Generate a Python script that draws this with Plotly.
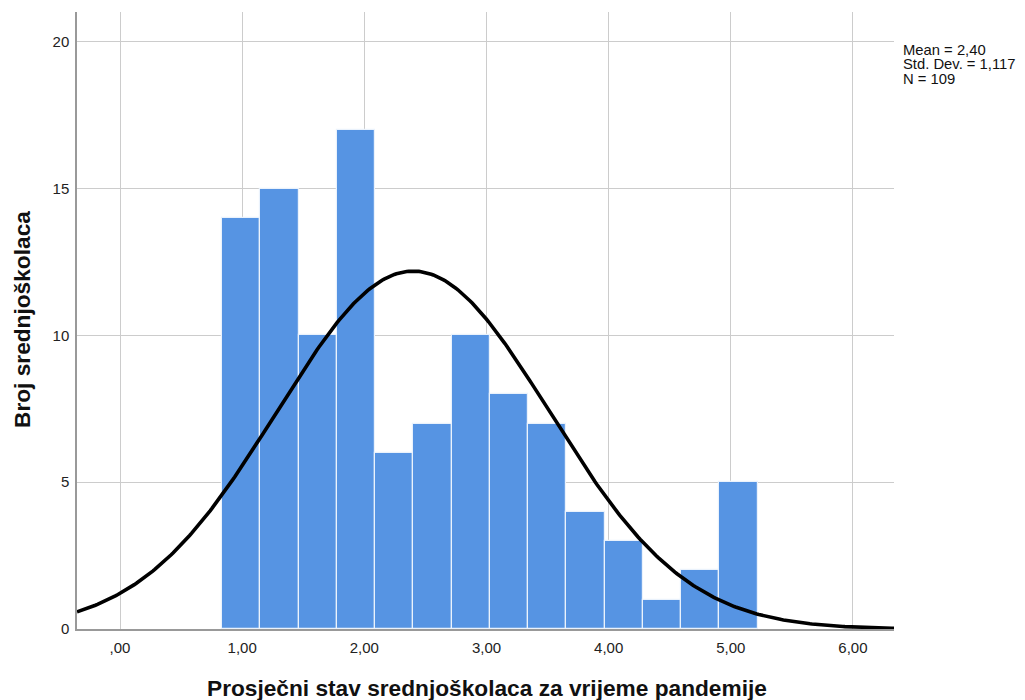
import numpy as np
import plotly.graph_objects as go

# Data
counts = [14, 15, 10, 17, 6, 7, 10, 8, 7, 4, 3, 1, 2, 5]
bin_start = 0.835
bin_width = 0.3132
mean = 2.40
std_dev = 1.117
n_total = 109
x_tick_vals = [0, 1, 2, 3, 4, 5, 6]
x_tick_text = [",00", "1,00", "2,00", "3,00", "4,00", "5,00", "6,00"]
y_tick_vals = [0, 5, 10, 15, 20]
stats_lines = ["Mean = 2,40", "Std. Dev. = 1,117", "N = 109"]

centers = [bin_start + bin_width * (i + 0.5) for i in range(len(counts))]

x_range = [-0.352, 6.336]
y_range = [0, 21.02]

xs = np.linspace(x_range[0], x_range[1], 400)
ys = n_total * bin_width / (std_dev * np.sqrt(2 * np.pi)) * np.exp(-0.5 * ((xs - mean) / std_dev) ** 2)

# page body has an 8px margin, so layout pixels = screen pixels - 8
OFF = 8
W, H = 1025 - OFF, 700 - OFF
PW, PH = 817, 617
L, T = 77 - OFF, 12 - OFF
R, B = W - L - PW, H - T - PH


def px_x(px):
    return (px - OFF - L) / PW


def px_y(py):
    return 1 - (py - OFF - T) / PH


fig = go.Figure()
fig.add_trace(go.Bar(
    x=centers, y=counts, width=bin_width,
    marker=dict(color="#5694E3", line=dict(color="#EAF2FC", width=1.2)),
    hoverinfo="skip",
))
fig.add_trace(go.Scatter(
    x=xs, y=ys, mode="lines",
    line=dict(color="black", width=3.6),
    hoverinfo="skip",
))

font_family = "Liberation Sans, Arial, sans-serif"
annotations = [
    dict(xref="paper", yref="paper", x=px_x(487), y=px_y(688),
         xanchor="center", yanchor="middle", showarrow=False,
         text="<b>Prosječni stav srednjoškolaca za vrijeme pandemije</b>",
         font=dict(size=22.7, color="#111", family=font_family)),
    dict(xref="paper", yref="paper", x=px_x(22), y=px_y(320), textangle=-90,
         xanchor="center", yanchor="middle", showarrow=False,
         text="<b>Broj srednjoškolaca</b>",
         font=dict(size=22.7, color="#111", family=font_family)),
]
for i, line in enumerate(stats_lines):
    annotations.append(dict(
        xref="paper", yref="paper", x=px_x(902), y=px_y(49.5 + 14.5 * i),
        xanchor="left", yanchor="middle", align="left", showarrow=False,
        borderpad=0,
        text=line, font=dict(size=14.8, color="#111", family=font_family),
    ))

fig.update_layout(
    width=W, height=H,
    margin=dict(l=L, r=R, t=T, b=B, autoexpand=False),
    plot_bgcolor="white", paper_bgcolor="white",
    showlegend=False,
    bargap=0,
    font=dict(family=font_family, size=15, color="#222"),
    xaxis=dict(
        range=x_range, tickvals=x_tick_vals, ticktext=x_tick_text,
        showgrid=True, gridcolor="#CCCCCC", gridwidth=1,
        showline=True, linecolor="#999999", linewidth=1.5,
        ticks="", zeroline=False, ticklabelstandoff=4, automargin=False,
    ),
    yaxis=dict(
        range=y_range, tickvals=y_tick_vals,
        showgrid=True, gridcolor="#CCCCCC", gridwidth=1,
        showline=True, linecolor="#999999", linewidth=1.5,
        ticks="", zeroline=False, ticklabelstandoff=3, automargin=False,
    ),
    annotations=annotations,
)

fig.write_html("out.html")
